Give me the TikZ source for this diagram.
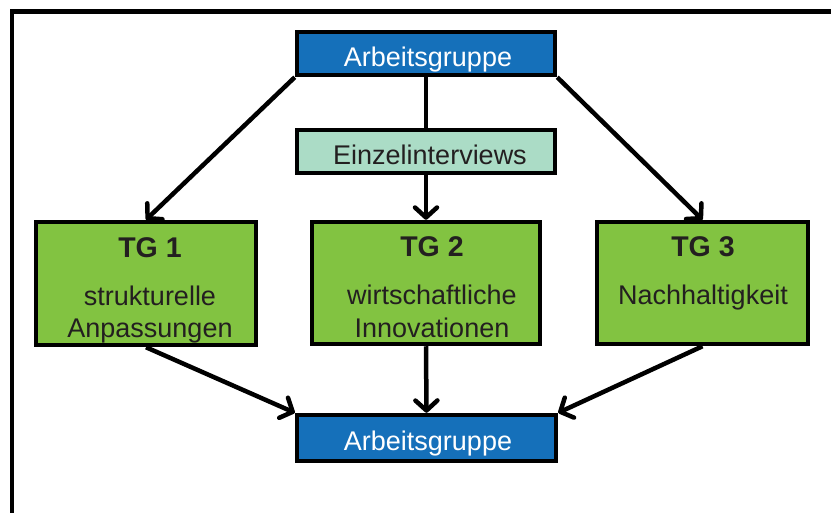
\documentclass[tikz,border=0pt]{standalone}
\usepackage{fontspec}
\setmainfont{Liberation Sans}
\usetikzlibrary{arrows.meta}
\definecolor{agblue}{RGB}{21,112,186}
\definecolor{tggreen}{RGB}{130,195,65}
\definecolor{einzteal}{RGB}{171,220,198}
\definecolor{txtdark}{RGB}{35,31,32}
\tikzset{
  box/.style={draw=black, line width=4.5pt, rectangle, inner sep=0pt},
  agbox/.style={box, fill=agblue, minimum width=258pt, minimum height=43pt},
  tgbox/.style={box, fill=tggreen, minimum height=122pt},
  lbl/.style={anchor=base, inner sep=0pt, font=\fontsize{27}{31}\selectfont, text=txtdark},
  lblw/.style={lbl, text=white},
  tglbl/.style={lbl, font=\fontsize{28.5}{32}\selectfont\bfseries},
  conn/.style={line width=4.5pt, -{Straight Barb[length=10pt,width=22pt,line cap=round,line join=round]}},
  plain/.style={line width=4.5pt}
}
\begin{document}
\begin{tikzpicture}[x=1pt,y=-1pt]
\clip (0,0) rectangle (831,513);
\fill[white] (0,0) rectangle (831,513);
% outer frame (cut off at right and bottom)
\coordinate (fbl) at (12,530);
\coordinate (ftl) at (12,11.5);
\coordinate (ftr) at (850,11.5);
\draw[line width=4.5pt] (fbl) -- (ftl) -- (ftr);

% boxes
\node[agbox] (ag1) at (426,53.5) {};
\node[box, fill=einzteal, minimum width=258pt, minimum height=43pt] (einz) at (426,151.5) {};
\node[tgbox, minimum width=220pt, minimum height=123pt] (tg1) at (146,283.5) {};
\node[tgbox, minimum width=228pt] (tg2) at (426,283) {};
\node[tgbox, minimum width=211pt] (tg3) at (702.5,283) {};
\node[agbox, minimum width=259pt, minimum height=46pt] (ag2) at (426.5,438) {};

% texts
\node[lblw] (t-ag1) at (428,66.5) {Arbeitsgruppe};
\node[lbl] (t-einz) at (430,165) {Einzelinterviews};
\node[tglbl] (t-tg1) at (150,258) {TG 1};
\node[lbl] (t-tg1a) at (150,306) {strukturelle};
\node[lbl] (t-tg1b) at (150,338) {Anpassungen};
\node[tglbl] (t-tg2) at (432,257) {TG 2};
\node[lbl] (t-tg2a) at (432,305) {wirtschaftliche};
\node[lbl] (t-tg2b) at (432,338) {Innovationen};
\node[tglbl] (t-tg3) at (703,257) {TG 3};
\node[lbl] (t-tg3a) at (703,305) {Nachhaltigkeit};
\node[lblw] (t-ag2) at (428,450) {Arbeitsgruppe};

% connectors
\draw[conn] (ag1.south west) -- (tg1.north);
\draw[conn] (ag1.south east) -- (tg3.north);
\draw[plain] (ag1.south) -- (einz.north);
\draw[conn] (einz.south) -- (tg2.north);
\draw[conn] (tg1.south) -- (ag2.north west);
\draw[conn] (tg2.south) -- (ag2.north);
\draw[conn] (tg3.south) -- (ag2.north east);
\end{tikzpicture}
\end{document}
